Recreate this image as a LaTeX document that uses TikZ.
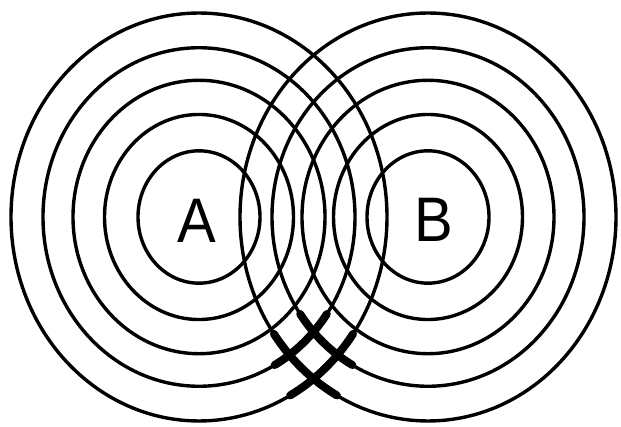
\documentclass[tikz,border=0pt]{standalone}
\usepackage{fontspec}
\setmainfont{Liberation Sans}
\begin{document}
\begin{tikzpicture}[x=1pt,y=1pt,
  ring/.style={line width=3.4pt},
  boldarc/.style={line width=8pt, line cap=round},
  letter/.style={font=\fontsize{58}{58}\selectfont, inner sep=0pt, yscale=1.085, transform shape}]
\useasboundingbox (0,0) rectangle (621,426);
\coordinate (cA) at (199,209);
\coordinate (cB) at (428,209);
\foreach \r in {61,94.5,126,156,188} {
  \draw[ring] (cA) ellipse [x radius=\r, y radius=1.085*\r];
  \draw[ring] (cB) ellipse [x radius=\r, y radius=1.085*\r];
}
% thickened crossings
\draw[boldarc] ([shift={(-61:156 and 169.26)}]cA) arc[start angle=-61, end angle=-35, x radius=156, y radius=169.26];
\draw[boldarc] ([shift={(-61:188 and 203.98)}]cA) arc[start angle=-61, end angle=-35, x radius=188, y radius=203.98];
\draw[boldarc] ([shift={(215:156 and 169.26)}]cB) arc[start angle=215, end angle=241, x radius=156, y radius=169.26];
\draw[boldarc] ([shift={(215:188 and 203.98)}]cB) arc[start angle=215, end angle=241, x radius=188, y radius=203.98];
\node[letter] (A) at (197,205) {A};
\node[letter] (B) at (434,206) {B};
\end{tikzpicture}
\end{document}
